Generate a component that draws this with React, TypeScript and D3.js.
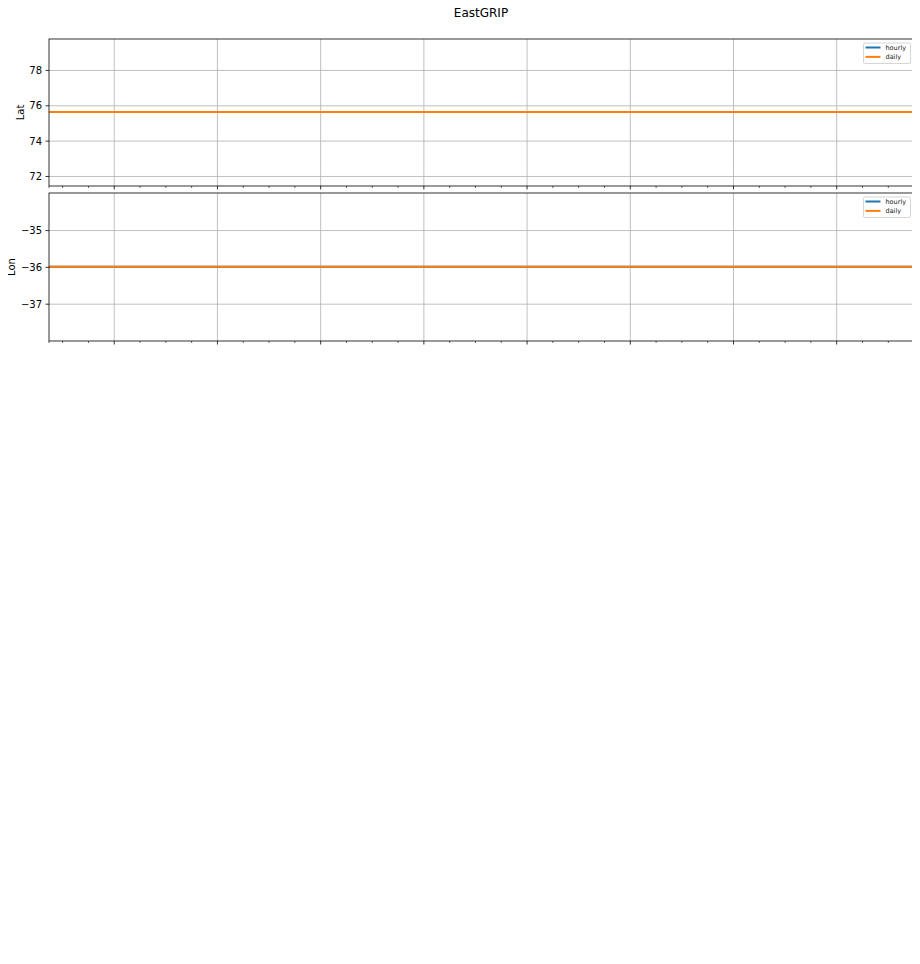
import React, { useEffect, useRef } from 'react';
import * as d3 from 'd3';

// time axis in days since start of record
const hourlyDays = [0, 20, 40, 60, 80, 100, 120, 140, 160, 180, 200, 220, 234.4];
const dailyDays = [0, 30, 60, 90, 120, 150, 180, 210, 234.4];
const latHourly = [75.65, 75.65, 75.65, 75.65, 75.65, 75.65, 75.65, 75.65, 75.65, 75.65, 75.65, 75.65, 75.65];
const latDaily = [75.65, 75.65, 75.65, 75.65, 75.65, 75.65, 75.65, 75.65, 75.65];
const lonHourly = [-35.98, -35.98, -35.98, -35.98, -35.98, -35.98, -35.98, -35.98, -35.98, -35.98, -35.98, -35.98, -35.98];
const lonDaily = [-35.98, -35.98, -35.98, -35.98, -35.98, -35.98, -35.98, -35.98, -35.98];

const majorTicks = [17.7, 45.7, 73.7, 101.7, 129.7, 157.7, 185.7, 213.7];
const minorTicks = [0, 3.7, 10.7, 24.7, 31.7, 38.7, 52.7, 59.7, 66.7, 80.7, 87.7, 94.7, 108.7, 115.7, 122.7,
  136.7, 143.7, 150.7, 164.7, 171.7, 178.7, 192.7, 199.7, 206.7, 220.7, 227.7, 234.4];

const latTicks = [72, 74, 76, 78];
const lonTicks = [-37, -36, -35];
const seriesNames = ['hourly', 'daily'];
const colors = ['#1f77b4', '#ff7f0e'];

const App = () => {
  const svgRef = useRef(null);

  useEffect(() => {
    const svg = d3.select(svgRef.current);
    svg.selectAll('*').remove();
    const font = 'DejaVu Sans, sans-serif';

    svg.append('text')
      .attr('x', 481).attr('y', 17)
      .attr('text-anchor', 'middle')
      .attr('font-family', font).attr('font-size', 12)
      .text('EastGRIP');

    const left = 49, right = 913;
    const x = d3.scaleLinear().domain([0, 234.4]).range([left, right]);

    const panels = [
      { top: 39, bottom: 186, domain: [71.46, 79.78], ticks: latTicks, label: 'Lat', labelX: 24,
        series: [latHourly, latDaily], fmt: (d) => `${d}` },
      { top: 193, bottom: 341, domain: [-38.0, -33.98], ticks: lonTicks, label: 'Lon', labelX: 15,
        series: [lonHourly, lonDaily], fmt: (d) => `${d}`.replace('-', '\u2212') },
    ];

    panels.forEach((p) => {
      const y = d3.scaleLinear().domain(p.domain).range([p.bottom, p.top]);
      const g = svg.append('g');

      // grid
      g.selectAll('.vgrid').data(majorTicks).enter().append('line')
        .attr('x1', (d) => x(d)).attr('x2', (d) => x(d))
        .attr('y1', p.top).attr('y2', p.bottom)
        .attr('stroke', '#b0b0b0').attr('stroke-width', 0.8);
      g.selectAll('.hgrid').data(p.ticks).enter().append('line')
        .attr('x1', left).attr('x2', right)
        .attr('y1', (d) => y(d)).attr('y2', (d) => y(d))
        .attr('stroke', '#b0b0b0').attr('stroke-width', 0.8);

      // lines
      [hourlyDays, dailyDays].forEach((days, i) => {
        const line = d3.line()
          .x((d, j) => x(days[j]))
          .y((d) => y(d));
        g.append('path')
          .datum(p.series[i])
          .attr('fill', 'none')
          .attr('stroke', colors[i])
          .attr('stroke-width', 2)
          .attr('d', line);
      });

      // spines
      g.append('rect')
        .attr('x', left).attr('y', p.top)
        .attr('width', right - left).attr('height', p.bottom - p.top)
        .attr('fill', 'none').attr('stroke', '#000').attr('stroke-width', 0.8);

      // x ticks
      g.selectAll('.xmaj').data(majorTicks).enter().append('line')
        .attr('x1', (d) => x(d)).attr('x2', (d) => x(d))
        .attr('y1', p.bottom).attr('y2', p.bottom + 3.5)
        .attr('stroke', '#000').attr('stroke-width', 0.8);
      g.selectAll('.xmin').data(minorTicks).enter().append('line')
        .attr('x1', (d) => x(d)).attr('x2', (d) => x(d))
        .attr('y1', p.bottom).attr('y2', p.bottom + 2)
        .attr('stroke', '#000').attr('stroke-width', 0.6);

      // y ticks
      g.selectAll('.ytick').data(p.ticks).enter().append('line')
        .attr('x1', left - 3.5).attr('x2', left)
        .attr('y1', (d) => y(d)).attr('y2', (d) => y(d))
        .attr('stroke', '#000').attr('stroke-width', 0.8);
      g.selectAll('.ylab').data(p.ticks).enter().append('text')
        .attr('x', left - 7).attr('y', (d) => y(d))
        .attr('dy', '0.35em')
        .attr('text-anchor', 'end')
        .attr('font-family', font).attr('font-size', 10)
        .text(p.fmt);

      const cy = (p.top + p.bottom) / 2;
      g.append('text')
        .attr('transform', `translate(${p.labelX},${cy}) rotate(-90)`)
        .attr('text-anchor', 'middle')
        .attr('font-family', font).attr('font-size', 10)
        .text(p.label);

      // legend
      const lg = g.append('g').attr('transform', `translate(863.5,${p.top + 4})`);
      lg.append('rect')
        .attr('width', 47).attr('height', 20.5).attr('rx', 1.5)
        .attr('fill', '#fff').attr('fill-opacity', 0.8)
        .attr('stroke', '#ccc').attr('stroke-width', 0.8);
      seriesNames.forEach((name, i) => {
        const ly = 4.5 + i * 9.4;
        lg.append('line')
          .attr('x1', 2).attr('x2', 17)
          .attr('y1', ly).attr('y2', ly)
          .attr('stroke', colors[i]).attr('stroke-width', 2);
        lg.append('text')
          .attr('x', 22).attr('y', ly)
          .attr('dy', '0.35em')
          .attr('font-family', font).attr('font-size', 6.5)
          .attr('fill', '#222')
          .text(name);
      });
    });
  }, []);

  return <svg ref={svgRef} width={920} height={964} style={{ display: 'block', margin: '-8px' }}></svg>;
};

export default App;
